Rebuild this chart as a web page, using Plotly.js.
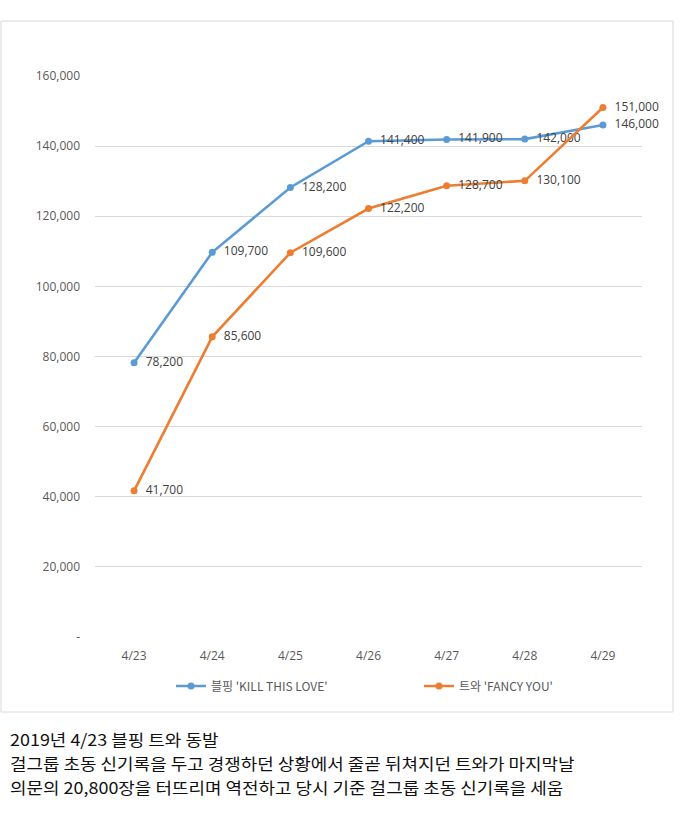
<!DOCTYPE html>
<html>
<head>
<meta charset="utf-8">
<script src="https://cdn.plot.ly/plotly-3.0.1.min.js"></script>
<style>
  html, body { margin: 0; padding: 0; background: #ffffff; }
  #wrap { position: relative; width: 690px; height: 818px; }
  #chart { width: 690px; height: 818px; }
  #caption { position: absolute; left: 10px; top: 726.5px; width: 670px; }
  #caption div {
    height: 24px; line-height: 24px; overflow: visible; white-space: nowrap;
    font-family: 'Noto Sans CJK KR', sans-serif; font-size: 16.4px; color: #111111;
    transform: scaleX(1.095); transform-origin: 0 50%;
  }
</style>
</head>
<body>
<div id="wrap">
  <div id="chart"></div>
  <div id="caption"></div>
</div>
<script>
// ---- data ----
const dates = ['4/23', '4/24', '4/25', '4/26', '4/27', '4/28', '4/29'];
const blackpinkName = "블핑 'KILL THIS LOVE'";
const blackpinkSales = [78200, 109700, 128200, 141400, 141900, 142000, 146000];
const twiceName = "트와 'FANCY YOU'";
const twiceSales = [41700, 85600, 109600, 122200, 128700, 130100, 151000];
const yTickVals = [0, 20000, 40000, 60000, 80000, 100000, 120000, 140000, 160000];
const yTickText = ['-', '20,000', '40,000', '60,000', '80,000', '100,000', '120,000', '140,000', '160,000'];
const captionLines = [
  '2019년 4/23 블핑 트와 동발',
  '걸그룹 초동 신기록을 두고 경쟁하던 상황에서 줄곧 뒤쳐지던 트와가 마지막날',
  '의문의 20,800장을 터뜨리며 역전하고 당시 기준 걸그룹 초동 신기록을 세움'
];

// ---- caption (real text) ----
const cap = document.getElementById('caption');
captionLines.forEach(t => {
  const d = document.createElement('div');
  d.textContent = t;
  cap.appendChild(d);
});

// ---- layout helpers (pixel -> paper) ----
const W = 690, H = 818;
const M = { l: 95, r: 48, t: 76, b: 181 };
const PW = W - M.l - M.r, PH = H - M.t - M.b;
const px = x => (x - M.l) / PW;
const py = y => (H - M.b - y) / PH;

const fmt = v => v.toLocaleString('en-US');
const labelFont = { family: 'Open Sans, sans-serif', size: 12, color: '#404040' };
const legendFont = { family: 'Noto Sans CJK KR, Open Sans, sans-serif', size: 12, color: '#595959' };

const traces = [
  {
    x: dates, y: blackpinkSales, name: blackpinkName,
    type: 'scatter', mode: 'lines+markers+text',
    line: { color: '#5B9BD5', width: 2.6 },
    marker: { color: '#5B9BD5', size: 7 },
    text: blackpinkSales.map(v => '  ' + fmt(v)),
    textposition: 'middle right',
    textfont: labelFont,
    cliponaxis: false,
    legend: 'legend'
  },
  {
    x: dates, y: twiceSales, name: twiceName,
    type: 'scatter', mode: 'lines+markers+text',
    line: { color: '#ED7D31', width: 2.6 },
    marker: { color: '#ED7D31', size: 7 },
    text: twiceSales.map(v => '  ' + fmt(v)),
    textposition: 'middle right',
    textfont: labelFont,
    cliponaxis: false,
    legend: 'legend2'
  }
];

const layout = {
  width: W, height: H,
  margin: M,
  paper_bgcolor: 'rgba(0,0,0,0)',
  plot_bgcolor: '#ffffff',
  font: { family: 'Open Sans, Noto Sans CJK KR, sans-serif', color: '#595959', size: 12 },
  showlegend: true,
  legend: {
    orientation: 'h',
    x: px(171), xanchor: 'left',
    y: py(686), yanchor: 'middle',
    font: legendFont,
    bgcolor: 'rgba(0,0,0,0)'
  },
  legend2: {
    orientation: 'h',
    x: px(419), xanchor: 'left',
    y: py(686), yanchor: 'middle',
    font: legendFont,
    bgcolor: 'rgba(0,0,0,0)'
  },
  xaxis: {
    type: 'category',
    range: [-0.5, 6.5],
    showgrid: false, zeroline: false, showline: false,
    ticks: '', ticklabelstandoff: 10,
    tickfont: { family: 'Open Sans, sans-serif', size: 12, color: '#595959' },
    fixedrange: true
  },
  yaxis: {
    range: [0, 160000],
    tickvals: yTickVals, ticktext: yTickText,
    showgrid: true, gridcolor: '#D9D9D9', gridwidth: 1,
    zeroline: false, showline: false,
    ticks: '', ticklabelstandoff: 14,
    tickfont: { family: 'Open Sans, sans-serif', size: 12, color: '#595959' },
    fixedrange: true
  },
  shapes: [
    {
      type: 'rect', xref: 'paper', yref: 'paper',
      x0: px(1), x1: px(673), y0: py(712), y1: py(21),
      line: { color: '#D9D9D9', width: 1 }, fillcolor: 'rgba(0,0,0,0)', layer: 'below'
    }
  ]
};

Plotly.newPlot('chart', traces, layout, { displayModeBar: false, staticPlot: true });
</script>
</body>
</html>
